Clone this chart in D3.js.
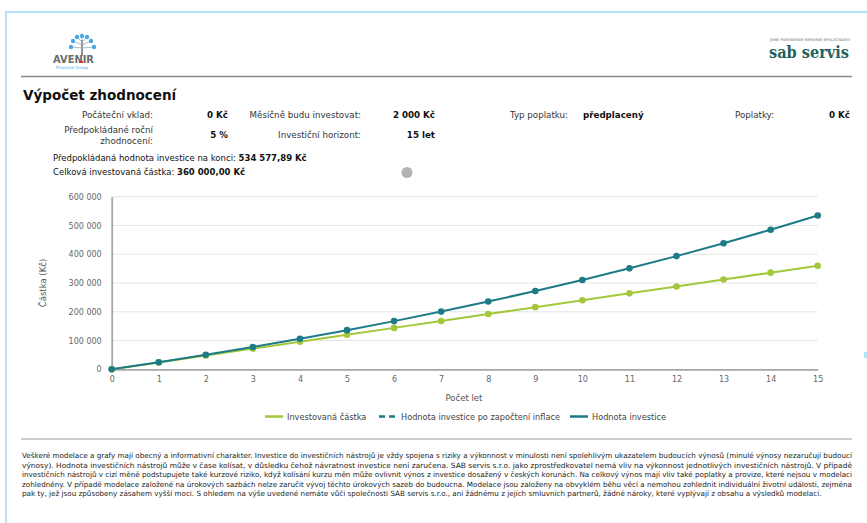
<!DOCTYPE html>
<html>
<head>
<meta charset="utf-8">
<script src="https://cdnjs.cloudflare.com/ajax/libs/d3/7.8.5/d3.min.js"></script>
<style>
	body { margin: 0; background: #fff; font-family: 'DejaVu Sans', sans-serif; }
	svg text { font-family: 'DejaVu Sans', sans-serif; }
</style>
</head>
<body>
<div id="graphic"></div>
<script>
// chart data
var years = [0, 1, 2, 3, 4, 5, 6, 7, 8, 9, 10, 11, 12, 13, 14, 15];
var invested = [0, 24000, 48000, 72000, 96000, 120000, 144000, 168000, 192000, 216000, 240000, 264000, 288000, 312000, 336000, 360000];
var investmentValue = [0, 24558, 50372, 77506, 105949, 136012, 167528, 200657, 235481, 272085, 310564, 351011, 393527, 438218, 485196, 534578];
var yTicks = [0, 100000, 200000, 300000, 400000, 500000, 600000];
var legendItems = ['Investovaná částka', 'Hodnota investice po započtení inflace', 'Hodnota investice'];

var footerLines = [
	'Veškeré modelace a grafy mají obecný a informativní charakter. Investice do investičních nástrojů je vždy spojena s riziky a výkonnost v minulosti není spolehlivým ukazatelem budoucích výnosů (minulé výnosy nezaručují budoucí',
	'výnosy). Hodnota investičních nástrojů může v čase kolísat, v důsledku čehož návratnost investice není zaručena. SAB servis s.r.o. jako zprostředkovatel nemá vliv na výkonnost jednotlivých investičních nástrojů. V případě',
	'investičních nástrojů v cizí měně podstupujete také kurzové riziko, když kolísání kurzu měn může ovlivnit výnos z investice dosažený v českých korunách. Na celkový výnos mají vliv také poplatky a provize, které nejsou v modelaci',
	'zohledněny. V případě modelace založené na úrokových sazbách nelze zaručit vývoj těchto úrokových sazeb do budoucna. Modelace jsou založeny na obvyklém běhu věcí a nemohou zohlednit individuální životní události, zejména',
	'pak ty, jež jsou způsobeny zásahem vyšší moci. S ohledem na výše uvedené nemáte vůči společnosti SAB servis s.r.o., ani žádnému z jejích smluvních partnerů, žádné nároky, které vyplývají z obsahu a výsledků modelací.'
];

var green = '#a3c73a';
var teal = '#1d7a87';

var cz = d3.formatLocale({ decimal: ',', thousands: '\u00a0', grouping: [3], currency: ['', ' Kč'] });

var svg = d3.select('#graphic')
	.append('svg')
	.attr('width', 867)
	.attr('height', 523);

// page frame
svg.append('rect').attr('x', 5).attr('y', 11).attr('width', 862).attr('height', 2).attr('fill', '#b5e2f7');
svg.append('rect').attr('x', 5).attr('y', 11).attr('width', 2).attr('height', 512).attr('fill', '#b5e2f7');
svg.append('rect').attr('x', 864).attr('y', 352).attr('width', 3).attr('height', 6).attr('fill', '#b5e2f7');

// AVENIR logo (rough)
var logo = svg.append('g');
var branches = [[82, 45, 73, 41], [82, 45, 91, 41], [82, 48, 71, 47], [82, 48, 94, 47], [82, 42, 82, 36], [82, 42, 77, 37], [82, 42, 87, 37]];
logo.append('line').attr('x1', 82).attr('y1', 56).attr('x2', 82).attr('y2', 40).attr('stroke', '#888').attr('stroke-width', 1.8);
branches.forEach(function (b) {
	logo.append('line').attr('x1', b[0]).attr('y1', b[1]).attr('x2', b[2]).attr('y2', b[3]).attr('stroke', '#9ab').attr('stroke-width', 0.8);
	logo.append('circle').attr('cx', b[2]).attr('cy', b[3]).attr('r', 2.2).attr('fill', '#4aa8e0');
});
logo.append('text').attr('x', 53).attr('y', 63).attr('font-size', 11).attr('font-weight', 'bold')
	.attr('fill', '#6b6b6b').attr('textLength', 41).attr('lengthAdjust', 'spacingAndGlyphs').text('AVENIR');
logo.append('rect').attr('x', 79).attr('y', 61).attr('width', 4).attr('height', 2).attr('fill', '#e03030');
logo.append('text').attr('x', 56).attr('y', 69).attr('font-size', 4).attr('fill', '#4aa8e0')
	.attr('textLength', 32).text('Financial Group');

// sab servis logo
svg.append('text').attr('x', 770).attr('y', 41).attr('font-size', 3.5).attr('fill', '#555')
	.attr('textLength', 80).text('JSME PARTNEREM SERVISNÍ SPOLEČNOSTI');
svg.append('text').attr('x', 769).attr('y', 58).attr('font-size', 17).attr('fill', '#1f5f5c')
	.attr('font-weight', 'bold')
	.attr('textLength', 80).attr('lengthAdjust', 'spacingAndGlyphs').style('font-family', "'DejaVu Serif', serif").text('sab servis');

// header separator
svg.append('line').attr('x1', 21).attr('x2', 852).attr('y1', 76.5).attr('y2', 76.5).attr('stroke', '#888').attr('stroke-width', 1.5);

// title and summary
svg.append('text').attr('x', 23).attr('y', 100).attr('font-size', 13.5).attr('font-weight', 'bold').attr('fill', '#111').text('Výpočet zhodnocení');

var info = [
	{ t: 'Počáteční vklad:', x: 153, y: 118, a: 'end' },
	{ t: '0 Kč', x: 228, y: 118, a: 'end', b: true },
	{ t: 'Měsíčně budu investovat:', x: 361, y: 118, a: 'end' },
	{ t: '2 000 Kč', x: 435, y: 118, a: 'end', b: true },
	{ t: 'Typ poplatku:', x: 568, y: 118, a: 'end' },
	{ t: 'předplacený', x: 583, y: 118, a: 'start', b: true },
	{ t: 'Poplatky:', x: 735, y: 118, a: 'start' },
	{ t: '0 Kč', x: 850, y: 118, a: 'end', b: true },
	{ t: 'Předpokládané roční', x: 153, y: 133, a: 'end' },
	{ t: 'zhodnocení:', x: 153, y: 144, a: 'end' },
	{ t: '5 %', x: 228, y: 138, a: 'end', b: true },
	{ t: 'Investiční horizont:', x: 361, y: 138, a: 'end' },
	{ t: '15 let', x: 435, y: 138, a: 'end', b: true }
];
svg.selectAll('text.info')
	.data(info)
	.join('text')
	.attr('class', 'info')
	.attr('x', (d) => d.x)
	.attr('y', (d) => d.y)
	.attr('text-anchor', (d) => d.a)
	.attr('font-size', 8.7)
	.attr('font-weight', (d) => (d.b ? 'bold' : 'normal'))
	.attr('fill', (d) => (d.b ? '#111' : '#333'))
	.text((d) => d.t);

var sumLine1 = svg.append('text').attr('x', 53).attr('y', 161).attr('font-size', 8.5).attr('fill', '#111');
sumLine1.append('tspan').text('Předpokládaná hodnota investice na konci: ');
sumLine1.append('tspan').attr('font-weight', 'bold').text('534 577,89 Kč');
var sumLine2 = svg.append('text').attr('x', 53).attr('y', 175).attr('font-size', 8.5).attr('fill', '#111');
sumLine2.append('tspan').text('Celková investovaná částka: ');
sumLine2.append('tspan').attr('font-weight', 'bold').text('360 000,00 Kč');
svg.append('circle').attr('cx', 407).attr('cy', 172.5).attr('r', 5.5).attr('fill', '#b3b3b3');

// chart
var x = d3.scaleLinear().domain([0, 15]).range([111.7, 817.7]);
var y = d3.scaleLinear().domain([0, 600000]).range([369.3, 196.7]);

var chart = svg.append('g');

chart.append('g')
	.attr('class', 'grid')
	.selectAll('line')
	.data(yTicks.slice(1))
	.join('line')
	.attr('x1', x(0))
	.attr('x2', x(15))
	.attr('y1', (d) => y(d))
	.attr('y2', (d) => y(d))
	.attr('stroke', '#e6e6e6')
	.attr('stroke-width', 1);

var yAxis = d3.axisLeft(y).tickValues(yTicks).tickSize(0).tickPadding(10).tickFormat(cz.format(',d'));
var gy = chart.append('g').attr('transform', 'translate(' + x(0) + ',0)').call(yAxis);
gy.select('.domain').attr('stroke', '#a6a6a6').attr('stroke-width', 1.8);
gy.selectAll('text').attr('font-size', 8).attr('fill', '#666').attr('font-family', "'DejaVu Sans', sans-serif");

var xAxis = d3.axisBottom(x).tickValues(years).tickSize(0).tickPadding(7).tickFormat(d3.format('d'));
var gx = chart.append('g').attr('transform', 'translate(0,' + y(0) + ')').call(xAxis);
gx.select('.domain').attr('stroke', '#a6a6a6').attr('stroke-width', 1.8);
gx.selectAll('text').attr('font-size', 8).attr('fill', '#666').attr('font-family', "'DejaVu Sans', sans-serif");

chart.append('text')
	.attr('transform', 'translate(46,' + (y(300000)) + ') rotate(-90)')
	.attr('text-anchor', 'middle')
	.attr('font-size', 8.5)
	.attr('fill', '#555')
	.text('Částka (Kč)');

chart.append('text')
	.attr('x', 464)
	.attr('y', 401)
	.attr('text-anchor', 'middle')
	.attr('font-size', 8.5)
	.attr('fill', '#555')
	.text('Počet let');

var series = [
	{ name: legendItems[0], values: invested, colour: green },
	{ name: legendItems[2], values: investmentValue, colour: teal }
];

var line = d3.line()
	.x((d, i) => x(years[i]))
	.y((d) => y(d));

series.forEach(function (s) {
	chart.append('path')
		.datum(s.values)
		.attr('fill', 'none')
		.attr('stroke', s.colour)
		.attr('stroke-width', 2)
		.attr('d', line);
	chart.append('g')
		.selectAll('circle')
		.data(s.values)
		.join('circle')
		.attr('cx', (d, i) => x(years[i]))
		.attr('cy', (d) => y(d))
		.attr('r', 3.3)
		.attr('fill', s.colour);
});

// legend
var legend = [
	{ name: legendItems[0], colour: green, dash: null, sx: 265, sw: 18, tx: 287 },
	{ name: legendItems[1], colour: teal, dash: '6,4', sx: 379, sw: 18, tx: 401 },
	{ name: legendItems[2], colour: teal, dash: null, sx: 570, sw: 18, tx: 592 }
];
var lg = svg.append('g').selectAll('g').data(legend).join('g');
lg.append('line')
	.attr('x1', (d) => d.sx)
	.attr('x2', (d) => d.sx + d.sw)
	.attr('y1', 416.5)
	.attr('y2', 416.5)
	.attr('stroke', (d) => d.colour)
	.attr('stroke-width', 2.5)
	.attr('stroke-dasharray', (d) => d.dash);
lg.append('text')
	.attr('x', (d) => d.tx)
	.attr('y', 419.5)
	.attr('font-size', 8.2)
	.attr('fill', '#444')
	.text((d) => d.name);

// footer
svg.append('line').attr('x1', 21).attr('x2', 852).attr('y1', 439).attr('y2', 439).attr('stroke', '#999').attr('stroke-width', 1.2);
svg.selectAll('text.footer')
	.data(footerLines)
	.join('text')
	.attr('class', 'footer')
	.attr('x', 22)
	.attr('y', (d, i) => 458 + i * 9.6)
	.attr('font-size', 7.2)
	.attr('fill', '#222')
	.attr('textLength', (d, i) => (i < footerLines.length - 1 ? 830 : null))
	.attr('lengthAdjust', 'spacingAndGlyphs')
	.text((d) => d);
</script>
</body>
</html>
